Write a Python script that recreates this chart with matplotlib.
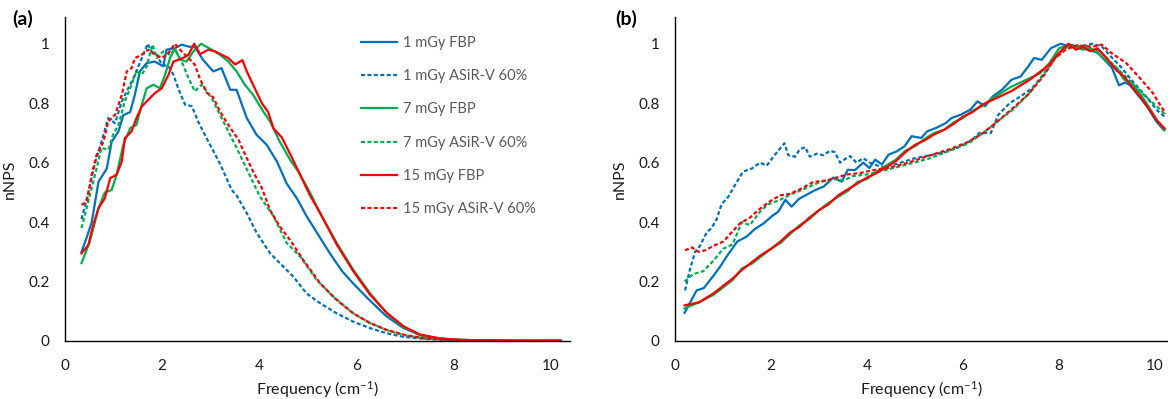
import matplotlib
matplotlib.use("Agg")
import matplotlib.pyplot as plt

plt.rcParams['font.family'] = ['Lato', 'DejaVu Sans']
plt.rcParams['mathtext.default'] = 'regular'

# (a) normalised NPS, frequency in cm^-1
a_f_fbp1 = [0.34, 0.45, 0.55, 0.69, 0.86, 0.96, 1.10, 1.20, 1.34, 1.44, 1.54, 1.68, 1.85, 2.02, 2.09,
            2.26, 2.40, 2.55, 2.67, 2.84, 3.05, 3.22, 3.40, 3.53, 3.74, 3.94, 4.15, 4.36, 4.56, 4.77,
            4.97, 5.20, 5.45, 5.70, 5.95, 6.25, 6.60, 6.95, 7.30, 7.70, 8.1, 8.6, 9.2, 9.8, 10.2]
a_v_fbp1 = [0.30, 0.35, 0.40, 0.536, 0.58, 0.67, 0.705, 0.76, 0.77, 0.83, 0.907, 0.935, 0.94, 0.924, 0.98,
            0.985, 0.997, 0.99, 0.99, 0.946, 0.907, 0.918, 0.845, 0.845, 0.75, 0.694, 0.66, 0.604, 0.53, 0.48,
            0.42, 0.36, 0.295, 0.235, 0.19, 0.14, 0.085, 0.045, 0.02, 0.008, 0.004, 0.002, 0.001, 0.001, 0.001]

a_f_asir1 = [0.34, 0.48, 0.62, 0.75, 0.89, 1.03, 1.17, 1.27, 1.41, 1.51, 1.61, 1.70, 1.78, 1.89, 1.99,
             2.13, 2.23, 2.33, 2.47, 2.61, 2.74, 2.92, 3.05, 3.19, 3.29, 3.43, 3.53, 3.74, 3.94, 4.22,
             4.56, 4.70, 4.97, 5.25, 5.59, 5.93, 6.28, 6.62, 6.96, 7.4, 7.9, 8.5, 9.2, 10.2]
a_v_asir1 = [0.41, 0.50, 0.60, 0.67, 0.75, 0.733, 0.806, 0.84, 0.885, 0.924, 0.963, 1.0, 0.974, 0.963, 0.93,
             0.924, 0.896, 0.85, 0.795, 0.79, 0.738, 0.68, 0.64, 0.596, 0.56, 0.508, 0.49, 0.43, 0.365, 0.295,
             0.239, 0.216, 0.16, 0.127, 0.093, 0.065, 0.043, 0.026, 0.014, 0.007, 0.003, 0.002, 0.001, 0.001]

a_f_fbp7 = [0.34, 0.51, 0.69, 0.82, 0.96, 1.06, 1.20, 1.34, 1.47, 1.58, 1.68, 1.82, 1.95, 2.06, 2.16,
            2.26, 2.37, 2.50, 2.64, 2.80, 3.02, 3.19, 3.36, 3.53, 3.70, 3.87, 4.08, 4.22, 4.42, 4.63,
            4.80, 5.04, 5.25, 5.59, 5.93, 6.28, 6.62, 6.96, 7.30, 7.7, 8.1, 8.6, 9.2, 9.8, 10.2]
a_v_fbp7 = [0.262, 0.334, 0.447, 0.50, 0.508, 0.559, 0.66, 0.716, 0.727, 0.795, 0.85, 0.862, 0.85, 0.896, 0.952,
            0.985, 0.946, 0.94, 0.974, 1.0, 0.98, 0.963, 0.94, 0.907, 0.862, 0.828, 0.772, 0.738, 0.67, 0.61,
            0.57, 0.50, 0.43, 0.33, 0.24, 0.16, 0.093, 0.048, 0.02, 0.008, 0.004, 0.002, 0.001, 0.001, 0.001]

a_f_asir7 = [0.34, 0.51, 0.65, 0.75, 0.89, 0.99, 1.10, 1.23, 1.37, 1.47, 1.58, 1.68, 1.80, 1.89, 2.02,
             2.16, 2.26, 2.40, 2.54, 2.67, 2.81, 3.02, 3.19, 3.36, 3.53, 3.74, 4.01, 4.29, 4.56, 4.84,
             5.18, 5.52, 5.93, 6.28, 6.62, 6.96, 7.4, 7.9, 8.5, 9.2, 10.2]
a_v_asir7 = [0.38, 0.49, 0.58, 0.65, 0.643, 0.694, 0.727, 0.806, 0.862, 0.907, 0.896, 0.924, 0.997, 0.952, 0.974,
             0.963, 0.98, 0.94, 0.885, 0.84, 0.862, 0.817, 0.761, 0.705, 0.65, 0.578, 0.486, 0.42, 0.33, 0.284,
             0.205, 0.149, 0.093, 0.06, 0.037, 0.02, 0.009, 0.004, 0.002, 0.001, 0.001]

a_f_fbp15 = [0.34, 0.48, 0.58, 0.69, 0.82, 0.93, 1.06, 1.17, 1.23, 1.37, 1.47, 1.58, 1.71, 1.85, 1.99,
             2.13, 2.23, 2.33, 2.43, 2.54, 2.66, 2.78, 2.95, 3.09, 3.22, 3.36, 3.50, 3.65, 3.74, 3.87,
             4.05, 4.18, 4.29, 4.46, 4.66, 4.82, 5.04, 5.25, 5.59, 5.93, 6.28, 6.62, 6.96, 7.30, 7.7,
             8.1, 8.6, 9.2, 9.8, 10.2]
a_v_fbp15 = [0.295, 0.323, 0.39, 0.447, 0.48, 0.548, 0.559, 0.604, 0.682, 0.705, 0.75, 0.789, 0.811, 0.834, 0.85,
             0.896, 0.94, 0.946, 0.952, 0.963, 1.0, 0.965, 0.98, 0.974, 0.963, 0.952, 0.93, 0.945, 0.907, 0.862,
             0.80, 0.77, 0.715, 0.685, 0.62, 0.565, 0.49, 0.43, 0.325, 0.235, 0.155, 0.095, 0.05, 0.022, 0.009,
             0.004, 0.002, 0.001, 0.001, 0.001]

a_f_asir15 = [0.34, 0.45, 0.55, 0.65, 0.79, 0.89, 1.03, 1.17, 1.27, 1.37, 1.44, 1.58, 1.71, 1.85, 1.99,
              2.13, 2.26, 2.40, 2.54, 2.67, 2.78, 2.92, 3.05, 3.19, 3.36, 3.57, 3.67, 3.87, 4.05, 4.22,
              4.42, 4.63, 4.90, 5.25, 5.59, 5.93, 6.28, 6.62, 7.0, 7.4, 7.9, 8.5, 9.2, 10.2]
a_v_asir15 = [0.458, 0.469, 0.56, 0.626, 0.67, 0.738, 0.761, 0.828, 0.907, 0.918, 0.952, 0.963, 0.98, 0.963, 0.952,
              0.969, 1.0, 0.974, 0.952, 0.93, 0.88, 0.835, 0.82, 0.772, 0.727, 0.677, 0.64, 0.57, 0.515, 0.44,
              0.385, 0.34, 0.273, 0.194, 0.138, 0.093, 0.06, 0.037, 0.02, 0.009, 0.004, 0.002, 0.001, 0.001]

# (b)
b_f_fbp1 = [0.2, 0.3, 0.45, 0.6, 0.78, 0.94, 1.1, 1.3, 1.5, 1.65, 1.84, 2.02, 2.15, 2.3, 2.43,
            2.58, 2.72, 2.9, 3.1, 3.3, 3.47, 3.6, 3.75, 3.92, 4.05, 4.17, 4.31, 4.45, 4.62, 4.78,
            4.93, 5.13, 5.25, 5.44, 5.64, 5.76, 5.95, 6.15, 6.30, 6.46, 6.62, 6.81, 7.01, 7.20, 7.36,
            7.48, 7.64, 7.83, 8.03, 8.22, 8.42, 8.61, 8.81, 9.01, 9.1, 9.25, 9.38, 9.48, 9.63, 9.83,
            10.02, 10.18]
b_v_fbp1 = [0.095, 0.125, 0.17, 0.178, 0.215, 0.25, 0.29, 0.335, 0.352, 0.375, 0.395, 0.42, 0.435, 0.475, 0.452,
            0.478, 0.49, 0.506, 0.52, 0.55, 0.536, 0.576, 0.575, 0.60, 0.582, 0.61, 0.594, 0.627, 0.638, 0.655,
            0.689, 0.683, 0.705, 0.717, 0.733, 0.75, 0.761, 0.778, 0.806, 0.79, 0.823, 0.845, 0.879, 0.89, 0.924,
            0.952, 0.946, 0.985, 1.0, 0.991, 0.985, 0.98, 0.969, 0.935, 0.92, 0.86, 0.87, 0.86, 0.83, 0.79,
            0.74, 0.71]

b_f_asir1 = [0.21, 0.31, 0.42, 0.52, 0.66, 0.76, 0.87, 0.97, 1.11, 1.25, 1.42, 1.60, 1.77, 1.91, 2.05,
             2.15, 2.28, 2.36, 2.50, 2.60, 2.71, 2.81, 2.95, 3.09, 3.23, 3.33, 3.44, 3.54, 3.65, 3.78,
             3.92, 4.06, 4.3, 4.6, 5.0, 5.32, 5.64, 5.95, 6.19, 6.34, 6.58, 6.73, 6.97, 7.20, 7.44,
             7.64, 7.83, 8.07, 8.22, 8.46, 8.69, 8.89, 9.08, 9.3, 9.55, 9.8, 10.05, 10.2]
b_v_asir1 = [0.17, 0.24, 0.30, 0.32, 0.365, 0.38, 0.41, 0.46, 0.485, 0.525, 0.57, 0.58, 0.60, 0.59, 0.62,
             0.64, 0.665, 0.625, 0.62, 0.645, 0.652, 0.62, 0.63, 0.625, 0.64, 0.635, 0.60, 0.612, 0.622, 0.60,
             0.615, 0.60, 0.585, 0.595, 0.615, 0.625, 0.636, 0.655, 0.677, 0.70, 0.70, 0.76, 0.80, 0.823, 0.851,
             0.89, 0.935, 0.98, 0.997, 0.991, 1.0, 0.991, 0.957, 0.92, 0.87, 0.825, 0.775, 0.755]

b_f_fbp = [0.2, 0.5, 0.8, 1.0, 1.2, 1.4, 1.6, 1.8, 2.0, 2.2, 2.4, 2.6, 2.8, 3.0, 3.2,
           3.4, 3.6, 3.8, 4.0, 4.2, 4.4, 4.6, 4.8, 5.0, 5.2, 5.4, 5.6, 5.8, 6.0, 6.2,
           6.4, 6.6, 6.8, 7.0, 7.2, 7.4, 7.6, 7.8, 8.0, 8.2, 8.35, 8.5, 8.65, 8.8, 9.0,
           9.2, 9.35, 9.5, 9.7, 9.9, 10.05, 10.2]
b_v_fbp7 = [0.11, 0.13, 0.155, 0.18, 0.205, 0.245, 0.26, 0.285, 0.31, 0.33, 0.36, 0.39, 0.41, 0.44, 0.465,
            0.485, 0.505, 0.535, 0.545, 0.57, 0.59, 0.61, 0.64, 0.655, 0.68, 0.70, 0.71, 0.735, 0.75, 0.775,
            0.79, 0.815, 0.835, 0.855, 0.87, 0.885, 0.90, 0.935, 0.985, 0.995, 0.99, 0.98, 0.985, 0.97, 0.94,
            0.92, 0.88, 0.87, 0.83, 0.78, 0.74, 0.71]
b_v_fbp15 = [0.12, 0.13, 0.16, 0.185, 0.21, 0.24, 0.265, 0.29, 0.31, 0.335, 0.365, 0.385, 0.415, 0.44, 0.46,
             0.49, 0.51, 0.53, 0.55, 0.565, 0.585, 0.605, 0.635, 0.66, 0.675, 0.695, 0.71, 0.73, 0.755, 0.77,
             0.795, 0.81, 0.825, 0.84, 0.86, 0.88, 0.905, 0.93, 0.97, 1.0, 0.98, 0.99, 0.975, 0.985, 0.95,
             0.91, 0.89, 0.86, 0.82, 0.775, 0.74, 0.715]

b_f_asir7 = [0.2, 0.38, 0.59, 0.8, 1.0, 1.2, 1.39, 1.56, 1.77, 1.94, 2.19, 2.43, 2.6, 2.81, 3.02,
             3.3, 3.51, 3.71, 3.99, 4.39, 4.86, 5.32, 5.72, 6.11, 6.42, 6.73, 7.05, 7.36, 7.67, 7.99,
             8.22, 8.53, 8.85, 9.16, 9.48, 9.79, 10.1, 10.22]
b_v_asir7 = [0.20, 0.225, 0.235, 0.27, 0.31, 0.325, 0.40, 0.39, 0.435, 0.46, 0.475, 0.495, 0.505, 0.52, 0.535,
             0.545, 0.54, 0.555, 0.56, 0.575, 0.595, 0.615, 0.64, 0.665, 0.70, 0.74, 0.78, 0.83, 0.895, 0.965,
             0.995, 0.99, 0.975, 0.925, 0.875, 0.825, 0.78, 0.76]

b_f_asir15 = [0.21, 0.35, 0.49, 0.63, 0.80, 1.01, 1.15, 1.35, 1.56, 1.77, 1.98, 2.19, 2.40, 2.60, 2.88,
              3.16, 3.37, 3.58, 3.85, 4.13, 4.39, 4.86, 5.32, 5.72, 6.11, 6.42, 6.73, 7.05, 7.36, 7.67,
              7.91, 8.14, 8.38, 8.69, 8.89, 9.08, 9.40, 9.71, 9.95, 10.22]
b_v_asir15 = [0.305, 0.315, 0.30, 0.305, 0.32, 0.335, 0.36, 0.395, 0.415, 0.445, 0.47, 0.49, 0.495, 0.51, 0.535,
              0.54, 0.55, 0.56, 0.565, 0.575, 0.58, 0.60, 0.625, 0.645, 0.67, 0.70, 0.74, 0.785, 0.83, 0.89,
              0.95, 0.98, 0.995, 0.99, 0.997, 0.97, 0.935, 0.88, 0.835, 0.765]

labels = ['1 mGy FBP', '1 mGy ASiR-V 60%', '7 mGy FBP', '7 mGy ASiR-V 60%',
          '15 mGy FBP', '15 mGy ASiR-V 60%']
blue, green, red = '#0070C0', '#00B050', '#FF0000'
dash = (1.8, 1.1)
lw = 1.6

fig = plt.figure(figsize=(11.68, 3.99), dpi=100)
ax1 = fig.add_axes([65/1168, 58/399, 505/1168, 324/399])
ax2 = fig.add_axes([675/1168, 58/399, 493/1168, 324/399])

l1, = ax1.plot(a_f_fbp1, a_v_fbp1, color=blue, lw=lw)
l2, = ax1.plot(a_f_asir1, a_v_asir1, color=blue, lw=lw, dashes=dash)
l3, = ax1.plot(a_f_fbp7, a_v_fbp7, color=green, lw=lw)
l4, = ax1.plot(a_f_asir7, a_v_asir7, color=green, lw=lw, dashes=dash)
l5, = ax1.plot(a_f_fbp15, a_v_fbp15, color=red, lw=lw)
l6, = ax1.plot(a_f_asir15, a_v_asir15, color=red, lw=lw, dashes=dash)

ax2.plot(b_f_fbp1, b_v_fbp1, color=blue, lw=lw)
ax2.plot(b_f_asir1, b_v_asir1, color=blue, lw=lw, dashes=dash)
ax2.plot(b_f_fbp, b_v_fbp7, color=green, lw=lw)
ax2.plot(b_f_asir7, b_v_asir7, color=green, lw=lw, dashes=dash)
ax2.plot(b_f_fbp, b_v_fbp15, color=red, lw=lw)
ax2.plot(b_f_asir15, b_v_asir15, color=red, lw=lw, dashes=dash)

for ax, xmax in ((ax1, 10.39), (ax2, 10.27)):
    ax.set_xlim(0, xmax)
    ax.set_ylim(0, 1.09)
    ax.set_xticks([0, 2, 4, 6, 8, 10])
    ax.set_xticklabels(['0', '2', '4', '6', '8', '10'])
    ax.set_yticks([0, 0.2, 0.4, 0.6, 0.8, 1.0])
    ax.set_yticklabels(['0', '0.2', '0.4', '0.6', '0.8', '1'])
    ax.tick_params(length=0, labelsize=11, labelcolor='#1a1a1a')
    ax.tick_params(axis='y', pad=11)
    ax.tick_params(axis='x', pad=13)
    for s in ('top', 'right'):
        ax.spines[s].set_visible(False)
    for s in ('left', 'bottom'):
        ax.spines[s].set_linewidth(1.0)
        ax.spines[s].set_color('black')
    ax.set_xlabel('Frequency (cm$^{-1}$)', fontsize=11.5, color='#1a1a1a', labelpad=4)
    ax.set_ylabel('nNPS', fontsize=11.5, color='#1a1a1a', labelpad=8)

fig.text(12/1168, 1 - 19/399, '(a)', fontsize=14, fontweight='bold', va='center')
fig.text(615/1168, 1 - 19/399, '(b)', fontsize=14, fontweight='bold', va='center')

leg = ax1.legend([l1, l2, l3, l4, l5, l6], labels, loc='upper left',
                 bbox_to_anchor=(361/1168, 1 - 36/399), bbox_transform=fig.transFigure,
                 frameon=False, fontsize=10.5, handlelength=2.5, handletextpad=0.4,
                 labelspacing=1.32, borderpad=0, borderaxespad=0)
for t in leg.get_texts():
    t.set_color('#595959')

fig.savefig('out.png', dpi=100)
